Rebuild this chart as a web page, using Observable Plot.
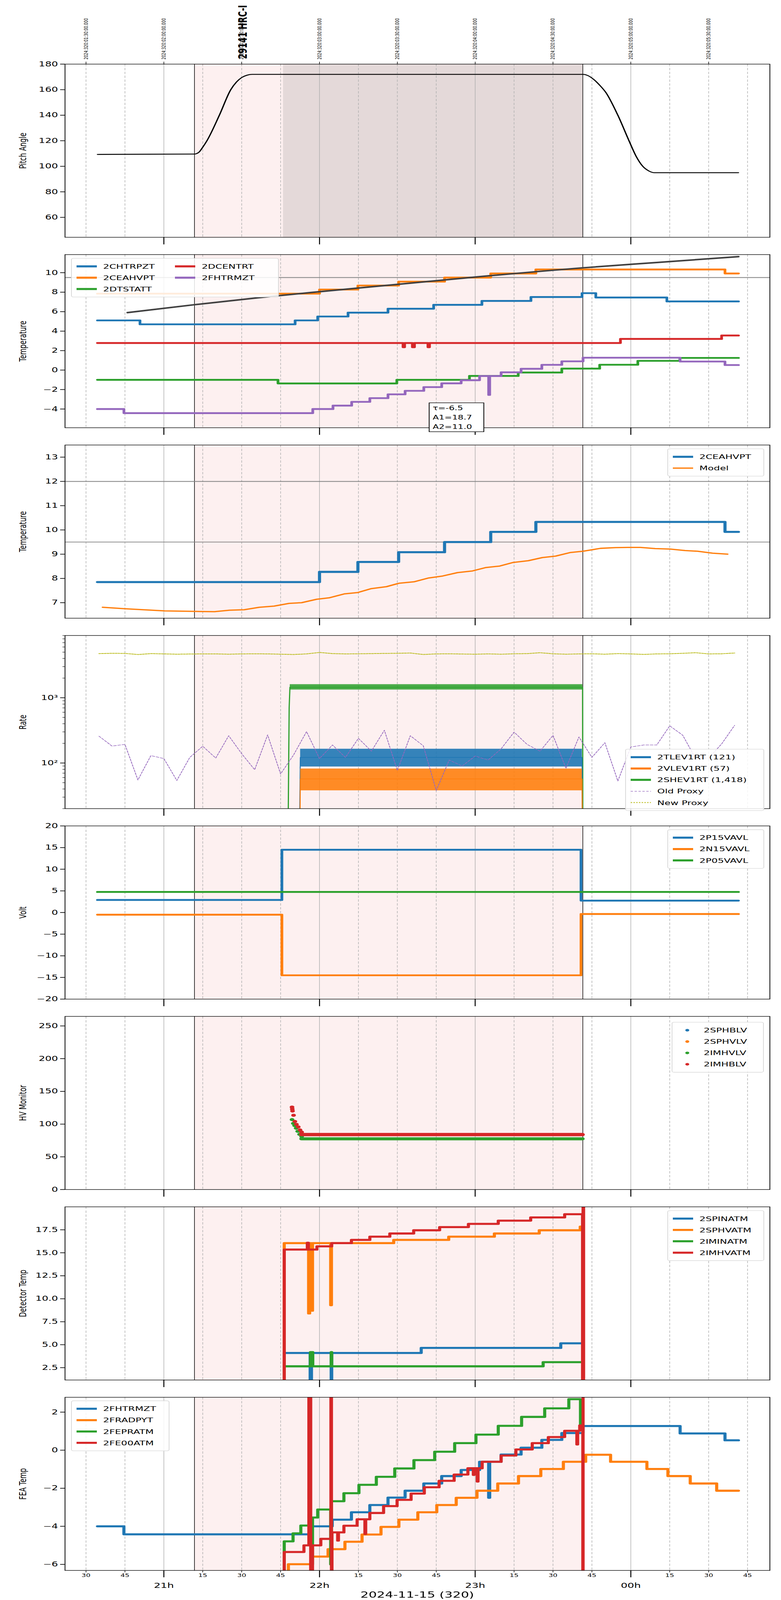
<!DOCTYPE html>
<html><head><meta charset="utf-8">
<script src="https://cdn.jsdelivr.net/npm/d3@7"></script>
<script src="https://cdn.jsdelivr.net/npm/@observablehq/plot@0.6"></script>
<style>
html,body{margin:0;background:#fff;font-family:"DejaVu Sans",sans-serif;overflow:hidden;}
#wrap{width:2000px;overflow:hidden;}
#root{position:relative;width:2000px;height:6200px;overflow:hidden;transform-origin:0 0;}
#root svg{display:block;}
.leg{position:absolute;background:rgba(255,255,255,0.85);border:2px solid #d9d9d9;border-radius:6px;font-size:25px;box-sizing:border-box;padding:8px 10px;}
.leg .row{display:flex;align-items:center;height:44px;white-space:nowrap;}
.leg .sw{width:56px;margin-right:14px;display:inline-block;}
.ylab{position:absolute;font-size:25px;transform:translate(-50%,-50%) rotate(-90deg);white-space:nowrap;}
</style></head><body><div id="wrap"><div id="root"></div></div>
<script>
// ---------- data (time = minutes after 20:00 on 2024-11-15) ----------
const hours = [60,120,180,240];
const hourLabels = ["21h","22h","23h","00h"];
const quarters = [30,45,75,90,105,135,150,165,195,210,225,255,270,285];
const topTicks = [30,60,90,120,150,180,210,240,270];
const topLabels = ["2024:320:01:30:00.000","2024:320:02:00:00.000","2024:320:02:30:00.000","2024:320:03:00:00.000","2024:320:03:30:00.000","2024:320:04:00:00.000","2024:320:04:30:00.000","2024:320:05:00:00.000","2024:320:05:30:00.000"];
const obsName = "29141 HRC-I", obsTime = 88.7;
const obsStart = 71.8, obsEnd = 221.5, darkStart = 106;

const pitchT = [34.4,71.8,73.5,75,76.6,81.4,85.8,88,90,92,94,221.6,223.5,226,228,230.3,235,239.3,242,244.6,247,249,281.5];
const pitchV = [109.3,109.6,111,115,120,140,160,166,169.5,171.3,172,172,171,167.5,163.5,158,140,120,108,100,96.3,95,95];

const chtrpztT=[34.4,50.8,110.6,119.3,131,146.4,164,182.6,201.5,221.2,226.5,253.9,281.5];
const chtrpztV=[5.1,4.7,5.1,5.5,5.9,6.3,6.7,7.1,7.5,7.9,7.45,7.05,7.05];
const ceahvptT=[34.4,120,134.8,150.5,168.2,186,203.4,276.3,281.5];
const ceahvptV=[7.85,8.27,8.68,9.08,9.5,9.92,10.33,9.92,9.92];
const dtstattT=[34.4,104,149.8,177.8,196.6,213.4,228,242.7,258.9,281.5];
const dtstattV=[-1.0,-1.37,-1.0,-0.6,-0.25,0.15,0.55,0.95,1.25,1.25];
const dcentrtT=[34.4,152.2,152.8,155.8,156.6,161.8,162.4,236,275,281.5];
const dcentrtV=[2.78,2.35,2.78,2.35,2.78,2.35,2.78,3.2,3.55,3.55];
const fhtrmztT=[34.4,44.6,117.4,125.2,132.4,139.4,146.4,153,160.2,167.1,174.6,181.7,185.2,185.6,190,197.7,205.7,213.4,221.6,259,276.3,281.5];
const fhtrmztV=[-4.0,-4.42,-4.0,-3.65,-3.26,-2.88,-2.49,-2.13,-1.75,-1.36,-1.04,-0.61,-2.55,-0.61,-0.23,0.13,0.54,0.9,1.27,0.88,0.52,0.52];
const modelGT=[46,72,96,120,150,180,221.5,250,281.5];
const modelGV=[5.9,6.72,7.42,8.05,8.8,9.55,10.5,11.05,11.65];
const fitText=["τ=-6.5","A1=18.7","A2=11.0"];

const modelT=[36.4,45,60.3,71.8,79.5,85.3,91,96.8,102.5,108.3,113.1,118.9,123.7,129.5,134.8,140,145.8,150.6,156.4,162.1,167.5,173.2,179,184.2,189.5,194.7,200.5,205.9,211,216.8,221.6,228.3,234.1,238.9,243.7,249.4,255.2,260.9,265.7,271.5,277.3];
const modelV=[6.81,6.75,6.66,6.64,6.63,6.69,6.71,6.81,6.86,6.97,7.0,7.14,7.2,7.36,7.42,7.58,7.66,7.8,7.86,8.02,8.1,8.24,8.31,8.45,8.51,8.66,8.73,8.86,8.92,9.07,9.12,9.24,9.27,9.28,9.28,9.23,9.21,9.15,9.12,9.04,9.0];

const proxyT = d3.range(35,281,5);
const oldProxy=[258,182,193,55,130,117,54,122,181,119,262,139,79,270,68,133,303,117,189,122,239,152,318,77,262,184,38,111,90,128,111,165,298,193,152,265,83,251,122,205,53,176,189,189,371,267,117,119,196,378];
const newProxy=[4750,4800,4780,4600,4750,4700,4650,4680,4700,4700,4650,4700,4720,4700,4650,4600,4700,4950,4750,4700,4720,4750,4780,4800,4850,4600,4700,4720,4680,4650,4700,4650,4720,4750,4900,4720,4650,4700,4720,4650,4750,4700,4620,4700,4720,4800,4900,4700,4720,4850];
const shevT=[107.9,108.3,108.6,221.4,221.5], shevV=[10,700,1450,1450,10];
const shevBandT=[108.6,221.4], shevLo=[1330,1330], shevHi=[1610,1610];
const tlevT=[112.3,112.6,221.2,221.3], tlevV=[10,122,122,10];
const tlevBandT=[112.6,221.2], tlevLo=[88,88], tlevHi=[165,165];
const vlevBandT=[112.6,221.2], vlevLo=[38,38], vlevHi=[82,82], vlevV=57;
const logMajor=[100,1000], logMinor=[20,30,40,50,60,70,80,90,200,300,400,500,600,700,800,900,2000,3000,4000,5000,6000,7000,8000,9000];

const voltT=[34.4,105.5,220.8,281.5];
const p15V=[2.9,14.5,2.75,2.75];
const n15V=[-0.5,-14.5,-0.35,-0.35];
const p05T=[34.4,281.5], p05V=[4.75,4.75];

const imhblT=[109.4,109.5,109.6,110.0,110.5,111.1,111.8,112.5,113.1], imhblV=[126,123,120,113.5,104,99.6,95.7,91,87.8];
const imhblFlatT=[113.1,221.3], imhblFlatV=[84,84];
const imhvlT=[109.4,109.9,110.4,111,111.6,112.3,113.1], imhvlV=[106.8,101,97.7,93.7,89,84.3,81];
const imhvlFlatT=[113.1,221.3], imhvlFlatV=[77.5,77.5];

const spinT=[106.3,106.4,116.2,116.4,116.9,124.3,124.5,124.7,159.2,213,220.7], spinV=[0,4.1,4.1,0,4.1,4.1,0,4.1,4.65,5.15,5.15];
const sphvT=[106.3,106.4,115.8,116.2,116.8,117.3,124.3,124.6,148.6,169.8,187.4,204.7,220.5,220.7], sphvV=[0,16.05,8.4,16.05,8.7,16.05,9.3,16.05,16.4,16.75,17.1,17.45,17.85,17.85];
const iminT=[106.4,116.2,116.5,117.4,124.3,124.5,124.7,206.2,220.7], iminV=[2.65,2.65,4.2,2.65,2.65,4.2,2.65,3.1,3.1];
const imhvT=[106.3,106.4,115.3,115.7,119,124.7,132.3,139.4,147.1,156.3,166.3,177.4,188.9,201.4,214.5,221.4,221.6,221.8], imhvV=[0,15.35,16.1,15.35,15.7,16.05,16.4,16.75,17.1,17.45,17.8,18.15,18.5,18.85,19.2,0,25,0];

const feaBT=[34.4,44.6,116,124.9,132.3,139.4,146.4,153,160.2,167.1,174.6,181.7,185.2,185.6,190,197.7,205.7,213.4,221.6,259,276.3,281.5];
const feaBV=[-4.0,-4.42,-4.0,-3.65,-3.26,-2.88,-2.49,-2.13,-1.75,-1.36,-1.04,-0.61,-2.5,-0.61,-0.23,0.13,0.54,0.9,1.27,0.88,0.52,0.52];
const feaOT=[106.3,108,117,123.3,129.8,136.4,143.7,150.6,157.9,165.2,172.7,180.7,188.7,196.7,205.3,214,222.6,232.2,246.2,254.3,262.9,273.1,281.5];
const feaOV=[-7,-5.99,-5.59,-5.2,-4.81,-4.43,-4.03,-3.65,-3.26,-2.88,-2.5,-2.13,-1.75,-1.36,-0.99,-0.61,-0.24,-0.61,-0.99,-1.36,-1.75,-2.13,-2.13];
const feaGT=[106.3,106.4,109.8,112.8,116.9,117.3,119.3,124.3,124.6,129.4,135.2,141.9,149,156.4,164.4,172.1,180.3,188.9,197.9,206.8,216.1,220.6,220.8];
const feaGV=[-7,-4.79,-4.37,-3.96,-6.0,-3.54,-3.12,-6.0,-2.68,-2.26,-1.82,-1.4,-0.96,-0.52,-0.08,0.37,0.82,1.28,1.75,2.2,2.68,1.3,1.3];
const feaRT=[106.3,106.4,114,115.9,116.6,117.3,120.5,124.4,124.6,124.8,127,127.3,129.4,134.5,137.5,137.8,139.4,144.7,149.9,155.3,160.4,166.1,171.9,177.2,179.3,179.6,180.8,181.1,182.7,190,195.7,202,208.2,214.5,219.2,219.5,220.3,221.5,221.6,221.7];
const feaRV=[-7,-5.35,-5.0,10,-10,-5.0,-4.66,10,-10,-4.32,-4.75,-4.32,-3.97,-3.63,-4.4,-3.63,-3.3,-2.94,-2.61,-2.28,-1.95,-1.61,-1.28,-0.95,-1.3,-0.95,-1.65,-0.95,-0.61,-0.28,0.04,0.37,0.69,1.02,0.3,1.02,1.3,-10,10,10];

// ---------- helpers ----------
const C = {blue:"#1f77b4",orange:"#ff7f0e",green:"#2ca02c",red:"#d62728",purple:"#9467bd",olive:"#bcbd22"};
const W=2000, ML=166, MR=29, PH=671, xDomain=[21.9,293.6];
const zip=(T,V)=>T.map((t,i)=>({t,v:V[i]}));
const root=document.getElementById("root");
// The browser viewport is capped below 6200px: fit the full 6200px layout into it vertically.
const vh=window.innerHeight||6200;
if(vh<6200){root.style.transform=`scale(1,${vh/6200})`;document.getElementById("wrap").style.height=vh+"px";}
function stepLine(T,V,color,w=7){return Plot.line(zip(T,V),{x:"t",y:"v",stroke:color,strokeWidth:w,curve:"step-after",clip:true,strokeLinejoin:"round"});}
function background(dark){
  const m=[Plot.rect([{a:obsStart,b:obsEnd}],{x1:"a",x2:"b",fill:"#fdf0f0"})];
  if(dark) m.push(Plot.rect([{a:darkStart,b:obsEnd}],{x1:"a",x2:"b",fill:"#e4d9d9"}));
  m.push(Plot.ruleX(hours,{stroke:"#b0b0b0",strokeWidth:1.5}));
  m.push(Plot.ruleX(quarters,{stroke:"#b0b0b0",strokeWidth:1.5,strokeDasharray:"9,6"}));
  m.push(Plot.ruleX([obsStart,obsEnd],{stroke:"black",strokeWidth:1.5}));
  return m;
}
function panel({yOpts,marks,dark=false,top=47,bottom=20,last=false,first=false,yTicks,yFmt,yMinor}){
  const axes=[
    Plot.axisY({ticks:yTicks,tickFormat:yFmt,tickSize:12,tickPadding:6,strokeWidth:2.5,fontSize:26,label:null}),
  ];
  if(yMinor) axes.push(Plot.axisY({ticks:yMinor,tickFormat:()=>"",tickSize:6,strokeWidth:1.5,label:null}));
  if(last){
    axes.push(Plot.axisX({ticks:hours,tickSize:27,tickPadding:22,strokeWidth:2.5,fontSize:27,tickFormat:d=>hourLabels[hours.indexOf(d)],label:null}));
    axes.push(Plot.axisX({ticks:quarters,tickSize:8,tickPadding:4,strokeWidth:1.5,fontSize:18,tickFormat:d=>String(d%60),label:null}));
  } else {
    axes.push(Plot.axisX({ticks:hours,tickSize:28,strokeWidth:2.5,tickFormat:()=>"",label:null}));
  }
  if(first){
    axes.push(Plot.axisX({anchor:"top",ticks:topTicks,tickSize:10,tickPadding:8,strokeWidth:1.5,fontSize:13.5,tickRotate:-90,tickFormat:d=>topLabels[topTicks.indexOf(d)],label:null,letterSpacing:1.3}));
    axes.push(Plot.text([obsName],{x:()=>obsTime,frameAnchor:"top",dy:-20,rotate:-90,textAnchor:"start",fontSize:30,fontWeight:"bold",text:d=>d}));
  }
  const svg=Plot.plot({width:W,height:top+PH+bottom,marginLeft:ML,marginRight:MR,marginTop:top,marginBottom:bottom,
    style:{fontFamily:"DejaVu Sans",fontSize:"26px",background:"white",overflow:"visible"},
    x:{type:"linear",domain:xDomain},y:yOpts,
    marks:[...background(dark),...marks,Plot.frame({stroke:"black",strokeWidth:2}),...axes]});
  root.appendChild(svg);
}
function plotTop(i){return 248+738*i;}
function ylabel(i,text){const d=document.createElement("div");d.className="ylab";d.textContent=text;d.style.left="58px";d.style.top=(plotTop(i)+PH/2)+"px";root.appendChild(d);}
function legend(left,top,width,items,cols=1){
  const d=document.createElement("div");d.className="leg";d.style.left=left+"px";d.style.top=top+"px";d.style.width=width+"px";
  d.style.display="grid";d.style.gridTemplateColumns=`repeat(${cols},auto)`;d.style.gridAutoFlow="column";d.style.gridTemplateRows=`repeat(${Math.ceil(items.length/cols)},44px)`;
  for(const it of items){
    const r=document.createElement("div");r.className="row";
    const s=document.createElement("span");s.className="sw";
    if(it.type==="dot") s.innerHTML=`<svg width="56" height="20"><circle cx="28" cy="10" r="5" fill="${it.color}"/></svg>`;
    else s.innerHTML=`<svg width="56" height="20"><line x1="2" x2="54" y1="10" y2="10" stroke="${it.color}" stroke-width="${it.w||8}" ${it.dash?`stroke-dasharray="${it.dash}"`:""}/></svg>`;
    r.appendChild(s);const t=document.createElement("span");t.textContent=it.label;r.appendChild(t);d.appendChild(r);
  }
  root.appendChild(d);
}

// ---------- panels ----------
panel({first:true,dark:true,top:248,yOpts:{domain:[44.4,180]},yTicks:d3.range(60,181,20),
  marks:[Plot.line(zip(pitchT,pitchV),{x:"t",y:"v",stroke:"black",strokeWidth:3.5,curve:"monotone-x"})]});
panel({yOpts:{domain:[-5.92,11.86]},yTicks:d3.range(-4,11,2),marks:[
  Plot.ruleY([9.5],{stroke:"#808080",strokeWidth:3}),
  stepLine(chtrpztT,chtrpztV,C.blue),stepLine(ceahvptT,ceahvptV,C.orange),stepLine(dtstattT,dtstattV,C.green),
  stepLine(dcentrtT,dcentrtV,C.red),stepLine(fhtrmztT,fhtrmztV,C.purple),
  Plot.line(zip(modelGT,modelGV),{x:"t",y:"v",stroke:"#404040",strokeWidth:6,curve:"monotone-x"})]});
panel({yOpts:{domain:[6.36,13.5]},yTicks:d3.range(7,14),marks:[
  Plot.ruleY([12,9.5],{stroke:"#808080",strokeWidth:3}),
  stepLine(ceahvptT,ceahvptV,C.blue,8),
  Plot.line(zip(modelT,modelV),{x:"t",y:"v",stroke:C.orange,strokeWidth:5})]});
panel({yOpts:{type:"log",domain:[20,9000]},yTicks:logMajor,yMinor:logMinor,yFmt:d=>d===100?"10²":"10³",marks:[
  Plot.line(zip(proxyT,newProxy),{x:"t",y:"v",stroke:C.olive,strokeWidth:3,strokeDasharray:"4,3"}),
  Plot.areaY(shevBandT.map((t,i)=>({t,lo:shevLo[i],hi:shevHi[i]})),{x:"t",y1:"lo",y2:"hi",fill:C.green,fillOpacity:0.85}),
  Plot.line(zip(shevT,shevV),{x:"t",y:"v",stroke:C.green,strokeWidth:3,clip:true}),
  Plot.areaY(tlevBandT.map((t,i)=>({t,lo:tlevLo[i],hi:tlevHi[i]})),{x:"t",y1:"lo",y2:"hi",fill:C.blue,fillOpacity:0.9}),
  Plot.line(zip(tlevT,tlevV),{x:"t",y:"v",stroke:C.blue,strokeWidth:2.5,clip:true}),
  Plot.areaY(vlevBandT.map((t,i)=>({t,lo:vlevLo[i],hi:vlevHi[i]})),{x:"t",y1:"lo",y2:"hi",fill:C.orange,fillOpacity:0.9}),
  Plot.line(zip([112.5,112.6,221.2,221.3],[10,vlevV,vlevV,10]),{x:"t",y:"v",stroke:C.orange,strokeWidth:2.5,clip:true}),
  Plot.line(zip(proxyT,oldProxy),{x:"t",y:"v",stroke:C.purple,strokeWidth:2,strokeDasharray:"7,4"})]});
panel({yOpts:{domain:[-20,20]},yTicks:d3.range(-20,21,5),marks:[
  stepLine(voltT,p15V,C.blue),stepLine(voltT,n15V,C.orange),stepLine(p05T,p05V,C.green)]});
panel({yOpts:{domain:[0,264.6]},yTicks:d3.range(0,251,50),marks:[
  Plot.line(zip(imhvlFlatT,imhvlFlatV),{x:"t",y:"v",stroke:C.green,strokeWidth:12,strokeLinecap:"round"}),
  Plot.dot(zip(imhvlT,imhvlV),{x:"t",y:"v",fill:C.green,r:6}),
  Plot.line(zip(imhblFlatT,imhblFlatV),{x:"t",y:"v",stroke:C.red,strokeWidth:13,strokeLinecap:"round"}),
  Plot.dot(zip(imhblT,imhblV),{x:"t",y:"v",fill:C.red,r:6})]});
panel({yOpts:{domain:[1.16,20.0]},yTicks:d3.range(2.5,17.6,2.5),yFmt:d=>d.toFixed(1),marks:[
  stepLine(spinT,spinV,C.blue,8),stepLine(sphvT,sphvV,C.orange,8),stepLine(iminT,iminV,C.green,8),stepLine(imhvT,imhvV,C.red,8)]});
panel({last:true,bottom:109,yOpts:{domain:[-6.32,2.78]},yTicks:d3.range(-6,3,2),marks:[
  stepLine(feaBT,feaBV,C.blue,8),stepLine(feaOT,feaOV,C.orange,8),stepLine(feaGT,feaGV,C.green,8),stepLine(feaRT,feaRV,C.red,8)]});

// ---------- labels, legends, annotation ----------
["Pitch Angle","Temperature","Temperature","Rate","Volt","HV Monitor","Detector Temp","FEA Temp"].forEach((t,i)=>ylabel(i,t));
const xl=document.createElement("div");xl.textContent="2024-11-15 (320)";
Object.assign(xl.style,{position:"absolute",left:(ML+(W-ML-MR)/2)+"px",top:"6180px",transform:"translate(-50%,-50%)",fontSize:"33px",whiteSpace:"nowrap"});root.appendChild(xl);
legend(182,plotTop(1)+14,532,[
  {label:"2CHTRPZT",color:C.blue},{label:"2CEAHVPT",color:C.orange},{label:"2DTSTATT",color:C.green},
  {label:"2DCENTRT",color:C.red},{label:"2FHTRMZT",color:C.purple}],2);
legend(1709,plotTop(2)+14,248,[{label:"2CEAHVPT",color:C.blue},{label:"Model",color:C.orange,w:5}]);
legend(1601,plotTop(3)+440,356,[{label:"2TLEV1RT (121)",color:C.blue},{label:"2VLEV1RT (57)",color:C.orange},{label:"2SHEV1RT (1,418)",color:C.green},{label:"Old Proxy",color:C.purple,w:2,dash:"6,4"},{label:"New Proxy",color:C.olive,w:3,dash:"4,3"}]);
legend(1709,plotTop(4)+14,248,[{label:"2P15VAVL",color:C.blue},{label:"2N15VAVL",color:C.orange},{label:"2P05VAVL",color:C.green}]);
legend(1720,plotTop(5)+22,236,[{label:"2SPHBLV",color:C.blue,type:"dot"},{label:"2SPHVLV",color:C.orange,type:"dot"},{label:"2IMHVLV",color:C.green,type:"dot"},{label:"2IMHBLV",color:C.red,type:"dot"}]);
legend(1709,plotTop(6)+14,248,[{label:"2SPINATM",color:C.blue},{label:"2SPHVATM",color:C.orange},{label:"2IMINATM",color:C.green},{label:"2IMHVATM",color:C.red}]);
legend(182,plotTop(7)+13,252,[{label:"2FHTRMZT",color:C.blue},{label:"2FRADPYT",color:C.orange},{label:"2FEPRATM",color:C.green},{label:"2FE00ATM",color:C.red}]);
const box=document.createElement("div");box.innerHTML=fitText.join("<br>");
Object.assign(box.style,{position:"absolute",left:"1098px",top:"1560px",width:"142px",height:"114px",border:"2px solid black",background:"white",fontSize:"23px",lineHeight:"36px",padding:"2px 8px",boxSizing:"border-box"});
root.appendChild(box);
</script></body></html>
